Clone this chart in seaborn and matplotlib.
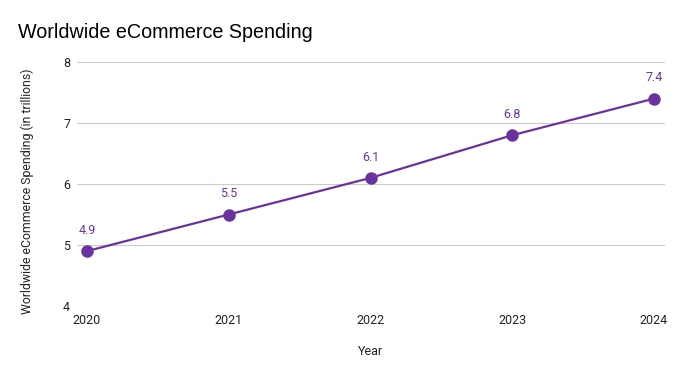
import matplotlib
matplotlib.use("Agg")
import matplotlib.pyplot as plt
import pandas as pd
import seaborn as sns

# data
years = [2020, 2021, 2022, 2023, 2024]
spending = [4.9, 5.5, 6.1, 6.8, 7.4]
y_ticks = [4, 5, 6, 7, 8]

purple = "#6a329f"

sns.set_theme(style="white")
plt.rcParams['font.family'] = ['Roboto', 'DejaVu Sans']

df = pd.DataFrame({"Year": years, "Spending": spending})

fig = plt.figure(figsize=(6.83, 3.78), dpi=100)
ax = fig.add_axes([77 / 683, 1 - 306 / 378, 588 / 683, 244 / 378])

sns.lineplot(data=df, x="Year", y="Spending", ax=ax, color=purple,
             linewidth=1.6, marker="o", markersize=9, markeredgewidth=0, zorder=3)

# value labels above each point, with a faint leader line behind the marker
for x, y in zip(years, spending):
    ax.annotate(f"{y}", (x, y), xytext=(0, 15), textcoords="offset points",
                ha="center", va="center", color=purple, fontsize=9, zorder=2,
                arrowprops=dict(arrowstyle="-", color="#dddddd", lw=0.8,
                                shrinkA=5, shrinkB=0))

ax.set_xlim(2020 - 10 / 141.75, 2024 + 11 / 141.75)
ax.set_ylim(4, 8)
ax.set_yticks(y_ticks)
ax.set_xticks(years)
ax.set_xticklabels([str(y) for y in years])
ax.grid(axis="y", color="#cccccc", linewidth=0.8)
ax.grid(axis="x", visible=False)
for s in ax.spines.values():
    s.set_visible(False)
ax.tick_params(axis="both", length=0, labelsize=9, colors="#222222")
ax.tick_params(axis="y", pad=5)
ax.tick_params(axis="x", pad=6)

ax.set_xlabel("Year", fontsize=9, color="#222222", labelpad=13)
ax.set_ylabel("Worldwide eCommerce Spending (in trillions)", fontsize=8.8,
              color="#222222")
ax.yaxis.set_label_coords(-0.073, 0.471)

fig.text(18 / 683, 1 - 32 / 378, "Worldwide eCommerce Spending", fontsize=14.2,
         family=['Liberation Sans', 'DejaVu Sans'], ha="left", va="center",
         color="#000000")

fig.savefig("out.png", dpi=100)
